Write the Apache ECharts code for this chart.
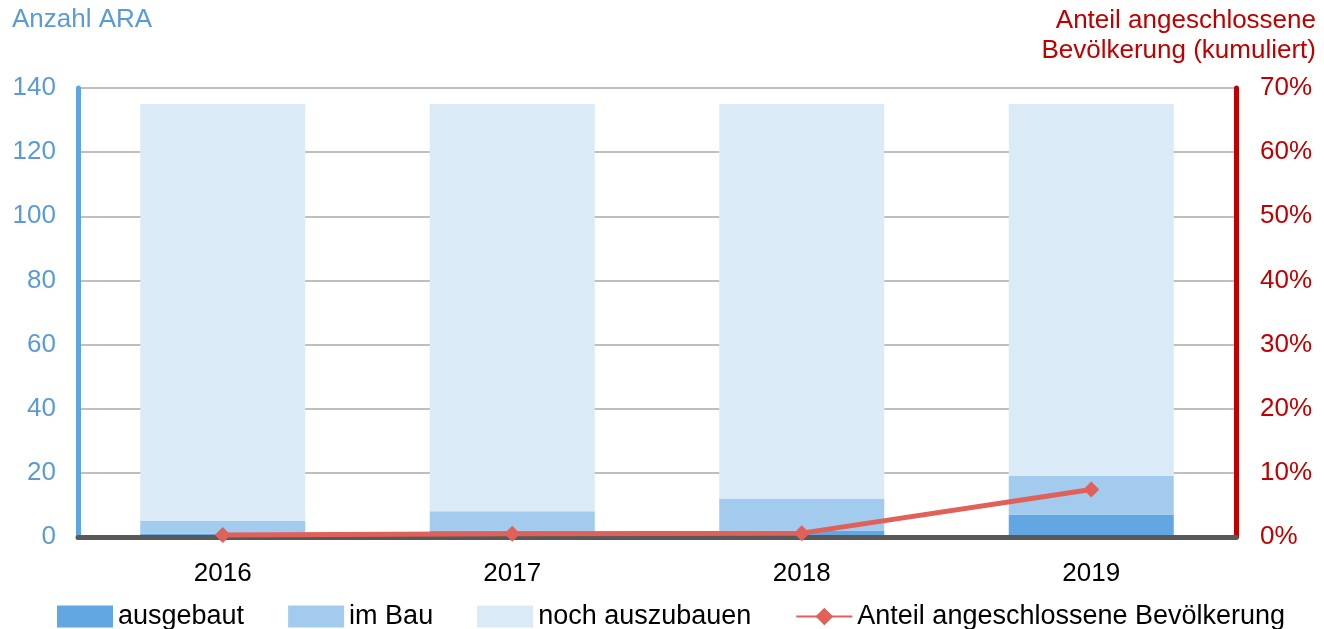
<!DOCTYPE html>
<html>
    <head>
        <meta charset="utf-8">
        <title>Anzahl ARA</title>
        <script src="https://cdn.jsdelivr.net/npm/echarts@6/dist/echarts.min.js"></script>
        <style>
            body { margin: 0; background: #fff; }
        </style>
    </head>
    <body>
        <div id="main" style="width: 1324px;height: 629px;"></div>

        <script>
            // Daten
            let jahre = ['2016', '2017', '2018', '2019'];
            let ausgebaut = [1, 2, 2, 7];
            let imBau = [4, 6, 10, 12];
            let nochAuszubauen = [130, 127, 123, 116];
            let anteil = [0.3, 0.5, 0.6, 7.4];   // Prozent
            let linksTicks = [0, 140, 20];
            let rechtsTicks = [0, 70, 10];

            let schrift = 'Liberation Sans, Arial, sans-serif';
            let blau = '#5B9BD5';
            let rot = '#C00000';

            var option = {
                animation: false,
                textStyle: { fontFamily: schrift },
                grid: {
                    left: 78,
                    right: 88,
                    top: 88,
                    bottom: 92
                },
                legend: {
                    top: 598,
                    left: 52,
                    itemWidth: 56,
                    itemHeight: 22,
                    itemGap: 44,
                    textStyle: { fontSize: 27, color: '#000', fontFamily: schrift },
                    data: [
                        { name: 'ausgebaut', icon: 'rect' },
                        { name: 'im Bau', icon: 'rect' },
                        { name: 'noch auszubauen', icon: 'rect' },
                        'Anteil angeschlossene Bevölkerung'
                    ]
                },
                xAxis: {
                    type: 'category',
                    data: jahre,
                    z: 3,
                    axisLine: { lineStyle: { color: '#595959', width: 5 } },
                    axisTick: { show: false },
                    axisLabel: { fontSize: 26, color: '#000', margin: 24 }
                },
                yAxis: [
                    {
                        type: 'value',
                        min: linksTicks[0],
                        max: linksTicks[1],
                        interval: linksTicks[2],
                        name: 'Anzahl ARA',
                        nameLocation: 'end',
                        nameGap: 55,
                        nameTextStyle: { color: blau, fontSize: 26, align: 'left', padding: [0, 0, 0, -66] },
                        axisLine: { show: true, lineStyle: { color: '#5FA5E2', width: 5 } },
                        axisTick: { show: false },
                        axisLabel: { fontSize: 26, color: blau, margin: 22 },
                        splitLine: { lineStyle: { color: '#BFBFBF', width: 2 } }
                    },
                    {
                        type: 'value',
                        min: rechtsTicks[0],
                        max: rechtsTicks[1],
                        interval: rechtsTicks[2],
                        position: 'right',
                        name: 'Anteil angeschlossene\nBevölkerung (kumuliert)',
                        nameLocation: 'end',
                        nameGap: 22,
                        nameTextStyle: { color: rot, fontSize: 26, align: 'right', lineHeight: 30, padding: [0, -80, 0, 0] },
                        axisLine: { show: true, lineStyle: { color: rot, width: 5 } },
                        axisTick: { show: false },
                        axisLabel: { fontSize: 26, color: rot, margin: 24, formatter: '{value}%' },
                        splitLine: { show: false }
                    }
                ],
                series: [
                    {
                        name: 'ausgebaut',
                        type: 'bar',
                        stack: 'ara',
                        barWidth: '57%',
                        itemStyle: { color: '#62A6E2' },
                        data: ausgebaut
                    },
                    {
                        name: 'im Bau',
                        type: 'bar',
                        stack: 'ara',
                        itemStyle: { color: '#A3CBEE' },
                        data: imBau
                    },
                    {
                        name: 'noch auszubauen',
                        type: 'bar',
                        stack: 'ara',
                        itemStyle: { color: '#DBEAF7' },
                        data: nochAuszubauen
                    },
                    {
                        name: 'Anteil angeschlossene Bevölkerung',
                        type: 'line',
                        yAxisIndex: 1,
                        z: 5,
                        symbol: 'diamond',
                        symbolSize: 16,
                        lineStyle: { color: '#E0605A', width: 5 },
                        itemStyle: { color: '#E0605A' },
                        data: anteil
                    }
                ]
            };

            let chart = echarts.init(document.getElementById('main'));
            chart.setOption(option);
        </script>
    </body>
</html>
